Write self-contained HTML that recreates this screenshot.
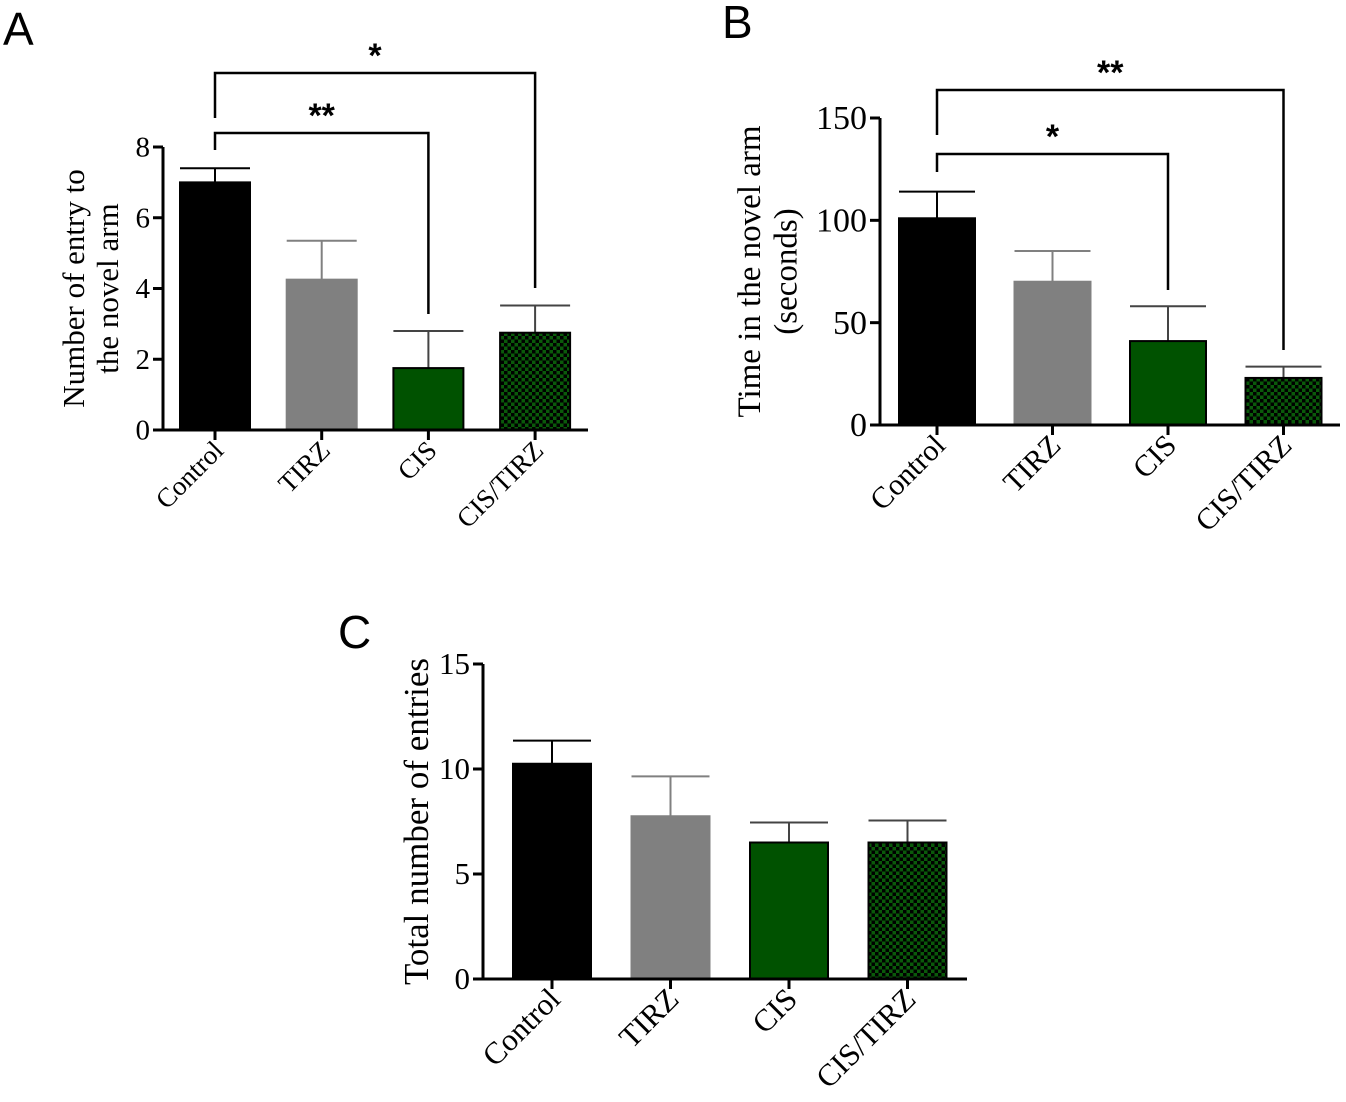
<!DOCTYPE html>
<html><head><meta charset="utf-8"><style>
html,body{margin:0;padding:0;background:#fff;}
svg{display:block;}
text{font-family:"Liberation Serif",serif;fill:#000;}
.lbl{font-family:"Liberation Sans",sans-serif;}
</style></head><body>
<svg id="fig" width="1346" height="1102" viewBox="0 0 1346 1102" xmlns="http://www.w3.org/2000/svg">
<defs>
<pattern id="chk" width="7" height="7" patternUnits="userSpaceOnUse">
<rect width="7" height="7" fill="#0a5a0a"/>
<rect width="3.5" height="3.5" fill="#000"/>
<rect x="3.5" y="3.5" width="3.5" height="3.5" fill="#000"/>
</pattern>
</defs>
<text class="lbl" x="3" y="45" font-size="46">A</text>
<text class="lbl" x="722" y="38" font-size="46">B</text>
<text class="lbl" x="338" y="648" font-size="46">C</text>
</svg>
<script>
const categories = ["Control","TIRZ","CIS","CIS/TIRZ"];
const aValues = [7, 4.25, 1.75, 2.75];
const aErrors = [7.4, 5.35, 2.8, 3.52];
const aTicks = [0,2,4,6,8];
const bValues = [101, 70, 41, 23];
const bErrors = [114, 85, 58, 28.5];
const bTicks = [0,50,100,150];
const cValues = [10.25, 7.75, 6.5, 6.5];
const cErrors = [11.35, 9.65, 7.45, 7.55];
const cTicks = [0,5,10,15];

const NS="http://www.w3.org/2000/svg";
const svg=document.getElementById('fig');
const fills=["#000","#808080","#005200","url(#chk)"];
const errCol=["#000","#808080","#444","#444"];
function mk(tag,attrs,parent){const e=document.createElementNS(NS,tag);for(const k in attrs)e.setAttribute(k,attrs[k]);(parent||svg).appendChild(e);return e;}

function panel(id,cfg,values,errors,ticks){
  const g=mk('g',{});
  
  
  const y=v=>cfg.y0-(v-0)/(cfg.ymax)*(cfg.y0-cfg.ytop);
  const x=i=>cfg.x0c+i*cfg.step;
  values.forEach((v,i)=>{
    const eb=mk('line',{x1:x(i),x2:x(i),y1:y(v),y2:y(errors[i]),stroke:errCol[i],'stroke-width':2},g);
    
    
    const cap=mk('line',{x1:x(i)-cfg.bw/2,x2:x(i)+cfg.bw/2,y1:y(errors[i]),y2:y(errors[i]),stroke:errCol[i],'stroke-width':2},g);
    
    
    const r=mk('rect',{x:x(i)-cfg.bw/2,y:y(v),width:cfg.bw,height:cfg.y0-y(v),fill:fills[i],stroke:i==1?'#808080':'#000','stroke-width':2},g);
    
    
    const t=mk('line',{x1:x(i),x2:x(i),y1:cfg.y0,y2:cfg.y0+10,stroke:'#000','stroke-width':3},g);
    
    
    const tx=x(i)+10, ty=cfg.y0+22;
    const lb=mk('text',{x:tx,y:ty,'font-size':cfg.xfs,'text-anchor':'end',transform:`rotate(-45 ${tx} ${ty})`},g);
    lb.textContent=categories[i];
    
    
  });
  const ax=mk('path',{d:`M${cfg.axX} ${cfg.ytop} L${cfg.axX} ${cfg.y0} M${cfg.axX-10} ${cfg.y0} L${cfg.xend} ${cfg.y0}`,stroke:'#000','stroke-width':3,fill:'none'},g);
  
  
  ticks.forEach(tv=>{
    const tl=mk('line',{x1:cfg.axX-10,x2:cfg.axX,y1:y(tv),y2:y(tv),stroke:'#000','stroke-width':3},g);
    
    
    const tt=mk('text',{x:cfg.axX-13,y:y(tv)+cfg.yfs*0.33,'font-size':cfg.yfs,'text-anchor':'end'},g);
    tt.textContent=tv;
    
    
  });
  const tg=mk('text',{transform:`translate(${cfg.titleX} ${(cfg.y0+cfg.ytop)/2}) rotate(-90)`,'font-size':cfg.tfs,'text-anchor':'middle'},g);
  
  
  cfg.title.forEach((ln,k)=>{const s=mk('tspan',{x:0,dy:k?cfg.tfs*1.1:0},tg);s.textContent=ln;});
  (cfg.brackets||[]).forEach(b=>{
    const p=mk('path',{d:`M${x(b.a)} ${b.ya} L${x(b.a)} ${b.y} L${x(b.b)} ${b.y} L${x(b.b)} ${b.yb}`,stroke:'#000','stroke-width':2.5,fill:'none'},g);
    
    
    const s=mk('text',{x:(x(b.a)+x(b.b))/2,y:b.y-6,'font-size':34,'font-weight':'bold','text-anchor':'middle',class:'lbl'},g);
    s.textContent=b.s;
    
    
  });
}
panel('panel-a',{y0:430,ytop:147,ymax:8,x0c:215,step:106.7,bw:70,axX:163,xend:588,xfs:27,yfs:29,tfs:31,titleX:84,title:["Number of entry to","the novel arm"],
  brackets:[{a:0,b:3,y:73,ya:118,yb:288,s:"*"},{a:0,b:2,y:133,ya:150,yb:314,s:"**"}]},aValues,aErrors,aTicks);
panel('panel-b',{y0:425,ytop:118,ymax:150,x0c:937,step:115.5,bw:76,axX:880,xend:1340,xfs:30,yfs:34,tfs:33,titleX:760,title:["Time in the novel arm","(seconds)"],
  brackets:[{a:0,b:3,y:90,ya:135,yb:350,s:"**"},{a:0,b:2,y:154,ya:172,yb:290,s:"*"}]},bValues,bErrors,bTicks);
panel('panel-c',{y0:979,ytop:664,ymax:15,x0c:552,step:118.5,bw:78,axX:483,xend:967,xfs:31,yfs:31,tfs:35,titleX:428,title:["Total number of entries"]},cValues,cErrors,cTicks);
</script>
</body></html>
